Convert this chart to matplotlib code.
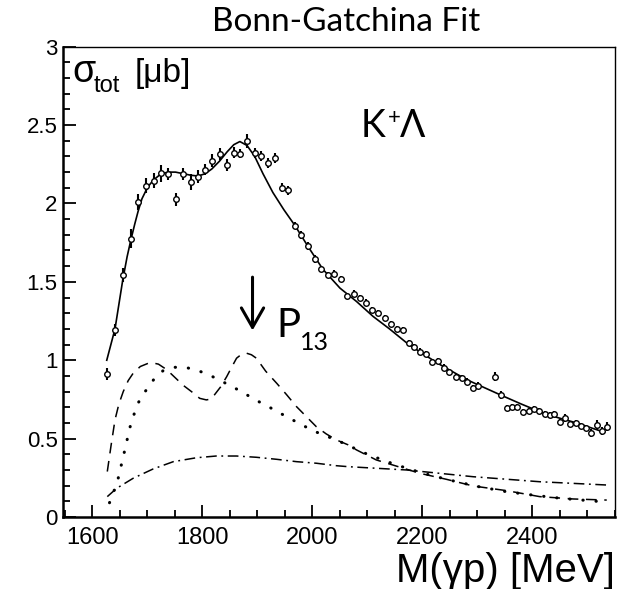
import matplotlib
matplotlib.use("Agg")
import matplotlib.pyplot as plt
from matplotlib.ticker import MultipleLocator

plt.rcParams['font.family'] = ['Liberation Sans', 'DejaVu Sans']

data_m = [1626, 1641, 1655, 1670, 1683, 1697, 1711, 1725, 1738, 1751, 1765, 1779, 1792, 1805,
          1817, 1831, 1845, 1857, 1868, 1881, 1895, 1907, 1919, 1932, 1944, 1956, 1968, 1979,
          1992, 2004, 2016, 2028, 2039, 2051, 2062, 2075, 2086, 2097, 2108, 2119, 2131, 2142,
          2153, 2164, 2175, 2185, 2196, 2207, 2217, 2228, 2239, 2249, 2261, 2271, 2281, 2291,
          2301, 2332, 2342, 2353, 2362, 2371, 2382, 2393, 2402, 2412, 2422, 2431, 2440, 2450,
          2460, 2469, 2479, 2488, 2497, 2506, 2517, 2526, 2535]
data_sig = [0.913, 1.193, 1.546, 1.774, 2.008, 2.114, 2.146, 2.193, 2.189, 2.027, 2.189, 2.136,
            2.172, 2.214, 2.274, 2.317, 2.246, 2.325, 2.317, 2.40, 2.321, 2.304, 2.257, 2.289,
            2.10, 2.083, 1.859, 1.80, 1.729, 1.646, 1.583, 1.542, 1.553, 1.519, 1.412, 1.425,
            1.395, 1.368, 1.321, 1.302, 1.268, 1.23, 1.20, 1.193, 1.112, 1.083, 1.055, 1.04,
            0.991, 0.996, 0.953, 0.923, 0.891, 0.885, 0.864, 0.825, 0.838, 0.895, 0.776, 0.696,
            0.70, 0.70, 0.67, 0.674, 0.687, 0.674, 0.657, 0.651, 0.655, 0.606, 0.63, 0.593,
            0.598, 0.581, 0.566, 0.538, 0.587, 0.551, 0.576]
data_err = [0.04, 0.04, 0.045, 0.06, 0.05, 0.05, 0.05, 0.055, 0.04, 0.04, 0.04, 0.05,
            0.04, 0.035, 0.04, 0.04, 0.04, 0.035, 0.03, 0.045, 0.03, 0.03, 0.03, 0.03,
            0.03, 0.03, 0.025, 0.025, 0.025, 0.025, 0.02, 0.02, 0.02, 0.02, 0.02, 0.02,
            0.02, 0.02, 0.02, 0.02, 0.02, 0.02, 0.02, 0.02, 0.02, 0.02, 0.02, 0.02,
            0.02, 0.02, 0.02, 0.02, 0.02, 0.02, 0.02, 0.02, 0.02, 0.03, 0.025, 0.02,
            0.02, 0.02, 0.02, 0.02, 0.02, 0.02, 0.02, 0.02, 0.02, 0.02, 0.025, 0.02,
            0.02, 0.02, 0.02, 0.025, 0.03, 0.025, 0.03]

# full fit
fit_m = [1626, 1641, 1655, 1663, 1670, 1677, 1683, 1690, 1697, 1704, 1711, 1725, 1738, 1751,
         1765, 1779, 1792, 1805, 1817, 1831, 1845, 1857, 1868, 1881, 1895, 1910, 1928, 1948,
         1968, 1992, 2019, 2050, 2080, 2110, 2140, 2175, 2228, 2281, 2341, 2380, 2425, 2480, 2531]
fit_sig = [1.00, 1.20, 1.51, 1.66, 1.77, 1.87, 1.95, 2.03, 2.08, 2.12, 2.15, 2.19, 2.20, 2.20,
           2.19, 2.18, 2.175, 2.19, 2.22, 2.27, 2.33, 2.375, 2.395, 2.37, 2.30, 2.19, 2.07, 1.96,
           1.86, 1.725, 1.58, 1.46, 1.375, 1.28, 1.20, 1.10, 0.98, 0.875, 0.78, 0.72, 0.655, 0.60, 0.54]

# P13 contribution (dashed)
p13_m = [1627, 1634, 1641, 1648, 1656, 1665, 1674, 1687, 1701, 1707, 1720, 1735, 1750, 1765,
         1780, 1795, 1807, 1815, 1822, 1833, 1844, 1853, 1862, 1871, 1880, 1889, 1898, 1915,
         1935, 1953, 1971, 1989, 2007, 2025, 2044, 2065, 2080, 2116, 2156, 2195, 2244, 2292,
         2353, 2413, 2474, 2535]
p13_sig = [0.29, 0.46, 0.62, 0.72, 0.80, 0.87, 0.917, 0.96, 0.98, 0.985, 0.975, 0.94, 0.89, 0.84,
           0.80, 0.757, 0.747, 0.752, 0.78, 0.83, 0.895, 0.955, 1.013, 1.038, 1.045, 1.035, 1.013, 0.93,
           0.853, 0.78, 0.704, 0.64, 0.576, 0.53, 0.491, 0.46, 0.428, 0.364, 0.321, 0.279, 0.24, 0.198,
           0.168, 0.13, 0.115, 0.108]

# dotted contribution
dot_m = [1631, 1645, 1659, 1668, 1680, 1689, 1701, 1713, 1728, 1750, 1771, 1792, 1812, 1831,
         1850, 1869, 1888, 1906, 1925, 1944, 1962, 1981, 1999, 2019, 2041, 2059, 2100, 2150,
         2200, 2250, 2300, 2350, 2400, 2450, 2500, 2535]
dot_sig = [0.091, 0.22, 0.43, 0.57, 0.704, 0.768, 0.825, 0.885, 0.932, 0.955, 0.953, 0.934, 0.906,
           0.874, 0.838, 0.804, 0.764, 0.729, 0.694, 0.657, 0.623, 0.587, 0.555, 0.523, 0.496,
           0.466, 0.40, 0.335, 0.28, 0.235, 0.195, 0.163, 0.14, 0.12, 0.105, 0.095]

# dash-dotted contribution
dd_m = [1627, 1644, 1674, 1710, 1747, 1789, 1825, 1862, 1898, 1935, 1971, 2007, 2044, 2065,
        2171, 2292, 2413, 2535]
dd_sig = [0.13, 0.183, 0.247, 0.306, 0.353, 0.378, 0.389, 0.389, 0.381, 0.368, 0.353, 0.343,
          0.327, 0.321, 0.30, 0.257, 0.225, 0.204]

xticks = [1600, 1800, 2000, 2200, 2400]
yticks = [0, 0.5, 1, 1.5, 2, 2.5, 3]
ytick_labels = ['0', '0.5', '1', '1.5', '2', '2.5', '3']

W, H = 619, 589
fig = plt.figure(figsize=(W / 100, H / 100), dpi=100)
ax = fig.add_axes([63.3 / W, 1 - 517 / H, (615 - 63.3) / W, (517 - 46.7) / H])

ax.plot(fit_m, fit_sig, color='k', lw=1.2)
ax.plot(p13_m, p13_sig, color='k', lw=1.1, dashes=(7, 5))
ax.plot(dot_m, dot_sig, color='k', lw=2.2, linestyle=(0, (0.1, 4.2)), dash_capstyle='round')
ax.plot(dd_m, dd_sig, color='k', lw=1.1, dashes=(7, 3, 1.2, 3))
ax.errorbar(data_m, data_sig, yerr=data_err, fmt='o', ms=4, mfc='white', mec='k', mew=1,
            ecolor='k', elinewidth=1.5, capsize=0)

ax.set_xlim(1547, 2550)
ax.set_ylim(0, 3)
ax.set_xticks(xticks)
ax.set_xticklabels([str(t) for t in xticks])
ax.set_yticks(yticks)
ax.set_yticklabels(ytick_labels)
ax.xaxis.set_minor_locator(MultipleLocator(50))
ax.yaxis.set_minor_locator(MultipleLocator(0.1))
ax.tick_params(which='both', direction='in', top=False, right=False, width=1.3)
ax.tick_params(which='major', length=9)
ax.tick_params(which='minor', length=5)
ax.tick_params(axis='x', pad=7, labelsize=17)
ax.tick_params(axis='y', pad=4, labelsize=16)
for s in ['left', 'bottom']:
    ax.spines[s].set_linewidth(1.8)
for s in ['top', 'right']:
    ax.spines[s].set_linewidth(1.0)


def px(x, y):
    return x / W, 1 - y / H


fig.text(*px(346, 22), 'Bonn-Gatchina Fit', family=['Lato', 'DejaVu Sans'], fontsize=24,
         ha='center', va='center')
fig.text(*px(72, 82), 'σ', fontsize=27, va='baseline')
fig.text(*px(94, 92), 'tot', fontsize=17, va='baseline')
fig.text(*px(135, 82), '[μb]', fontsize=24, va='baseline')
fig.text(*px(361, 137), 'K', family=['Lato', 'DejaVu Sans'], fontsize=27, va='baseline')
fig.text(*px(388, 124), '+', family=['Lato', 'DejaVu Sans'], fontsize=16, va='baseline')
fig.text(*px(400, 137), 'Λ', family=['Lato', 'DejaVu Sans'], fontsize=27, va='baseline')
fig.text(*px(276, 337), 'P', family=['Lato', 'DejaVu Sans'], fontsize=29, va='baseline')
fig.text(*px(300, 350), '13', family=['Lato', 'DejaVu Sans'], fontsize=18, va='baseline')
fig.text(*px(615, 582), 'M(γp) [MeV]', fontsize=29, ha='right', va='baseline')

ax.annotate('', xy=(1891, 1.19), xytext=(1891, 1.53),
            arrowprops=dict(arrowstyle='->,head_length=0.7,head_width=0.4', lw=2.2,
                            color='k', mutation_scale=20, shrinkA=0, shrinkB=0))

fig.savefig('out.png', dpi=100)
